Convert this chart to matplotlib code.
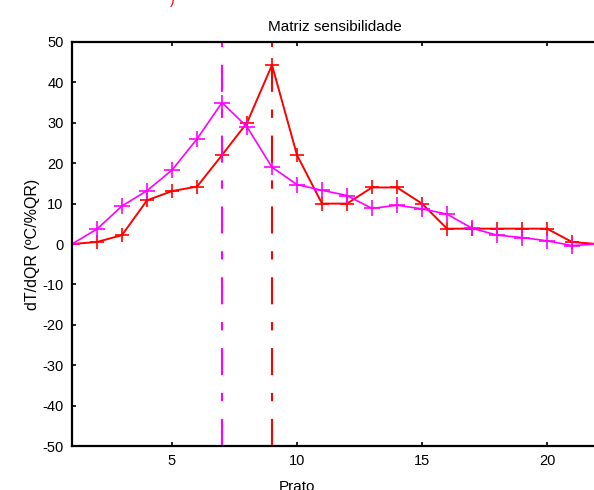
import numpy as np
import matplotlib.pyplot as plt

# %%
"""
Data read off the reference
"""
prato = np.arange(1, 23)
sens_red = [0, 0.5, 2.2, 10.8, 13.1, 14.2, 22, 30, 44.3, 22, 10, 10,
            14, 14, 10, 3.8, 3.8, 3.8, 3.8, 3.8, 0.5, 0]
sens_mag = [0, 3.7, 9.4, 13.2, 18.3, 26, 35, 29, 19, 14.7, 13.3, 12,
            8.8, 9.6, 8.7, 7.4, 3.9, 2.2, 1.6, 0.8, -0.4, 0]
peak_mag = 7
peak_red = 9
yticks = [-50, -40, -30, -20, -10, 0, 10, 20, 30, 40, 50]
xticks = [5, 10, 15, 20]

# %%
"""
Plot
"""
plt.rcParams['font.family'] = ['Liberation Sans', 'DejaVu Sans']
plt.rcParams['axes.unicode_minus'] = False
fig = plt.figure(figsize=(5.94, 4.90), dpi=100)
ax = fig.add_axes([72 / 594, 44 / 490, 525 / 594, 404 / 490])

ax.plot(prato, sens_red, color='#ff0000', marker='+', ms=10, mew=1.2, lw=1.4)
ax.plot(prato, sens_mag, color='#ff00ff', marker='+', ms=12, mew=1.2, lw=1.2)

dash = (13, 8.5, 4, 8.5)
ax.axvline(peak_mag, color='#ff00ff', lw=1.5, dashes=dash)
ax.axvline(peak_red, color='#ff0000', lw=1.5, dashes=dash)

ax.set_xlim(1, 22)
ax.set_ylim(-50, 50)
ax.set_xticks(xticks)
ax.set_yticks(yticks)
ax.tick_params(direction='in', length=3, width=1.2, labelsize=10.5,
               top=True, right=False, pad=6)
for s in ax.spines.values():
    s.set_linewidth(1.6)

ax.set_title('Matriz sensibilidade', fontsize=11, pad=8)
ax.set_ylabel('dT/dQR (ºC/%QR)', fontsize=11.5, labelpad=2)
ax.set_xlabel('Prato', fontsize=11)
ax.xaxis.set_label_coords((297 - 72) / 525, -0.085)

# red fragment clipped at the top edge
fig.text(172 / 594, 1.0, ')', color='#ff0000', fontsize=10, ha='center', va='center')

fig.savefig('out.png', dpi=100)
